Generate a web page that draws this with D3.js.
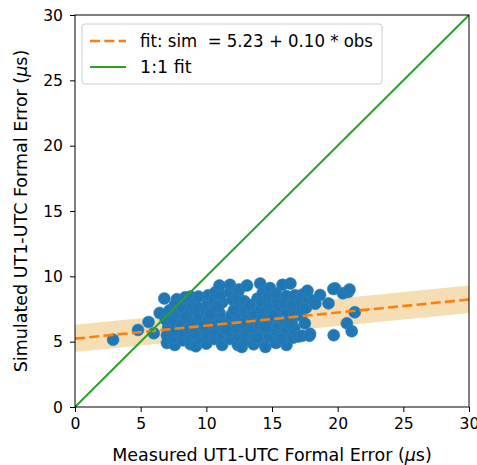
<!DOCTYPE html>
<html>
<head>
<meta charset="utf-8">
<script src="https://cdn.jsdelivr.net/npm/d3@7"></script>
<style>
  body { margin: 0; background: #fff; }
  text { font-family: "DejaVu Sans", sans-serif; fill: #000; }
</style>
</head>
<body>
<div id="chart"></div>
<script>
// Data ////////////////////////////////////////////////////////////////////
// Measured (obs) and simulated (sim) UT1-UTC formal errors
const obsValues = [
  2.9, 4.8, 5.6, 6.0, 6.45, 6.8, 7.0, 7.75,
  7.0, 7.1, 6.9, 7.2,
  7.6, 7.5, 7.7, 7.5, 7.8, 7.6,
  8.2, 8.3, 8.1, 8.3, 8.2, 8.4,
  8.8, 8.9, 8.7, 8.9, 8.8, 8.9, 8.8,
  9.2, 9.4, 9.5, 9.3, 9.5, 9.4, 9.4,
  10.0, 10.1, 9.9, 10.1, 10.0, 10.1, 10.15,
  10.6, 10.7, 10.5, 10.7, 10.6, 10.6, 10.7,
  11.2, 11.2, 11.3, 11.1, 11.0, 11.2, 11.1, 11.0,
  11.8, 11.9, 11.7, 11.9, 12.0, 11.8, 11.8,
  12.4, 12.5, 12.3, 12.5, 12.3, 12.4, 12.4, 12.5,
  12.7, 13.0, 13.1, 12.9, 13.1, 13.0, 12.9, 13.1,
  13.6, 13.7, 13.5, 13.7, 13.6, 13.5, 13.9,
  14.1, 14.2, 14.3, 14.1, 14.3, 14.2, 14.2, 14.3,
  14.5, 14.8, 14.9, 14.7, 14.9, 14.8, 14.7, 14.85,
  15.3, 15.4, 15.5, 15.3, 15.5, 15.4, 15.3, 15.8,
  16.1, 16.0, 16.1, 15.9, 16.1, 16.0, 16.1, 16.4,
  16.6, 16.7, 16.5, 16.7, 16.6, 16.75,
  17.0, 17.3, 17.2, 17.3, 17.2, 17.3,
  17.5, 17.9, 17.85, 17.6, 17.8, 18.1, 17.7,
  18.66, 19.3, 19.8, 20.8, 18.3, 20.4, 20.9, 19.67,
  21.3, 20.7, 21.07, 19.7,
  8.5, 9.7, 10.3, 11.5, 12.1, 12.7, 13.3, 14.5, 15.1, 15.7, 16.3, 9.1, 10.9, 13.9
];
const simValues = [
  5.15, 5.9, 6.5, 5.65, 7.2, 8.3, 4.9, 8.25,
  5.5, 6.1, 6.7, 7.4,
  4.75, 5.3, 5.9, 6.6, 7.2, 7.8,
  5.1, 5.7, 6.3, 7.0, 7.6, 8.4,
  4.8, 5.4, 6.0, 6.6, 7.3, 7.9, 8.45,
  4.65, 5.2, 5.8, 6.4, 7.0, 7.6, 8.45,
  4.85, 5.5, 6.1, 6.7, 7.3, 7.9, 8.55,
  5.2, 5.8, 6.4, 7.0, 7.6, 8.2, 8.8,
  4.75, 5.5, 6.1, 6.7, 7.2, 8.0, 8.6, 9.3,
  5.2, 5.8, 6.4, 7.0, 8.2, 8.8, 9.35,
  4.75, 5.4, 6.0, 6.6, 7.2, 7.8, 8.5, 9.0,
  4.6, 5.1, 5.7, 6.3, 6.9, 7.5, 8.1, 9.3,
  4.8, 5.4, 6.0, 6.6, 7.2, 7.8, 8.3,
  9.45, 5.1, 5.7, 6.3, 6.9, 7.5, 8.1, 8.75,
  4.6, 5.4, 6.0, 6.6, 7.2, 7.8, 8.4, 9.1,
  4.9, 5.7, 6.3, 6.9, 7.5, 8.1, 8.7, 9.35,
  4.75, 5.4, 6.1, 6.7, 7.3, 7.9, 8.5, 9.45,
  5.3, 6.0, 6.6, 7.2, 7.8, 8.55,
  5.4, 5.45, 7.0, 7.5, 8.1, 8.6,
  6.4, 5.6, 5.45, 7.6, 8.3, 8.1, 8.9,
  8.57, 7.93, 9.08, 8.8, 7.9, 8.7, 9.0, 9.03,
  7.25, 6.4, 5.8, 5.5,
  6.9, 6.2, 7.1, 5.9, 7.4, 6.4, 7.8, 6.1, 7.0, 5.2, 6.4, 5.6, 7.7, 5.3
];

// Fit line and its shaded band (at the two ends of the x range)
const fitX = [0, 30];
const fitIntercept = 5.23;
const fitSlope = 0.10;
const bandLower = [4.2, 7.2];
const bandUpper = [6.3, 9.3];

// Tick labels
const tickValues = [0, 5, 10, 15, 20, 25, 30];

// Chart ///////////////////////////////////////////////////////////////////
const margin = {top: 15, right: 8, bottom: 58, left: 75},
  width = 477 - margin.left - margin.right,
  height = 465 - margin.top - margin.bottom;

const x = d3.scaleLinear().domain([0, 30]).range([0, width]);
const y = d3.scaleLinear().domain([0, 30]).range([height, 0]);

const svg = d3.select('#chart').append('svg')
  .attr('width', 477)
  .attr('height', 465)
  .append('g')
  .attr('transform', 'translate(' + margin.left + ',' + margin.top + ')');

svg.append('defs').append('clipPath').attr('id', 'clip')
  .append('rect').attr('width', width).attr('height', height);

const plot = svg.append('g').attr('clip-path', 'url(#clip)');

// Shaded band around the fit
const bandData = fitX.map((d, i) => ({x: d, lo: bandLower[i], hi: bandUpper[i]}));
plot.append('path')
  .datum(bandData)
  .attr('fill', '#f5deb3')
  .attr('d', d3.area().x(d => x(d.x)).y0(d => y(d.lo)).y1(d => y(d.hi)));

// Scatter points
const points = obsValues.map((d, i) => ({obs: d, sim: simValues[i]}));
plot.selectAll('.dot')
  .data(points)
  .enter().append('circle')
  .attr('class', 'dot')
  .attr('cx', d => x(d.obs))
  .attr('cy', d => y(d.sim))
  .attr('r', 6)
  .attr('fill', '#1f77b4')
  .attr('stroke', '#3583bd')
  .attr('stroke-width', 0.6);

// Fit line
const line = d3.line().x(d => x(d[0])).y(d => y(d[1]));
plot.append('path')
  .datum(fitX.map(d => [d, fitIntercept + fitSlope * d]))
  .attr('fill', 'none')
  .attr('stroke', '#ff7f0e')
  .attr('stroke-width', 2.6)
  .attr('stroke-dasharray', '10,4.3')
  .attr('d', line);

// 1:1 line
plot.append('path')
  .datum(fitX.map(d => [d, d]))
  .attr('fill', 'none')
  .attr('stroke', '#2ca02c')
  .attr('stroke-width', 2)
  .attr('d', line);

// Axes
const xAxis = svg.append('g')
  .attr('transform', 'translate(0,' + height + ')')
  .call(d3.axisBottom(x).tickValues(tickValues).tickSize(5).tickPadding(6));
const yAxis = svg.append('g')
  .call(d3.axisLeft(y).tickValues(tickValues).tickSize(5).tickPadding(7));
[xAxis, yAxis].forEach(a => {
  a.selectAll('text').style('font-size', '15.6px').style('font-family', '"DejaVu Sans", sans-serif');
  a.select('.domain').remove();
  a.selectAll('line').attr('stroke', '#000').attr('stroke-width', 1);
});

// Frame
svg.append('rect')
  .attr('width', width).attr('height', height)
  .attr('fill', 'none').attr('stroke', '#000').attr('stroke-width', 1);

// Axis labels
const xLabel = svg.append('text')
  .attr('x', width / 2)
  .attr('y', height + 54)
  .attr('text-anchor', 'middle')
  .style('font-size', '17.5px');
xLabel.append('tspan').text('Measured UT1-UTC Formal Error (');
xLabel.append('tspan').style('font-style', 'italic').text('μ');
xLabel.append('tspan').text('s)');

const yLabel = svg.append('text')
  .attr('transform', 'translate(' + (-48) + ',' + (height / 2) + ') rotate(-90)')
  .attr('text-anchor', 'middle')
  .style('font-size', '17.5px');
yLabel.append('tspan').text('Simulated UT1-UTC Formal Error (');
yLabel.append('tspan').style('font-style', 'italic').text('μ');
yLabel.append('tspan').text('s)');

// Legend
const legend = svg.append('g').attr('transform', 'translate(7,9)');
legend.append('rect')
  .attr('width', 300).attr('height', 60)
  .attr('rx', 3)
  .attr('fill', '#fff').attr('fill-opacity', 0.8)
  .attr('stroke', '#ccc');
legend.append('line')
  .attr('x1', 8).attr('x2', 44).attr('y1', 17).attr('y2', 17)
  .attr('stroke', '#ff7f0e').attr('stroke-width', 2.6).attr('stroke-dasharray', '10,4.3');
legend.append('line')
  .attr('x1', 8).attr('x2', 44).attr('y1', 43).attr('y2', 43)
  .attr('stroke', '#2ca02c').attr('stroke-width', 2);
legend.append('text')
  .attr('x', 58).attr('y', 23)
  .style('font-size', '17.5px')
  .attr('xml:space', 'preserve')
  .attr('textLength', 233)
  .attr('lengthAdjust', 'spacingAndGlyphs')
  .text('fit: sim  = 5.23 + 0.10 * obs');
legend.append('text')
  .attr('x', 58).attr('y', 49)
  .style('font-size', '17.5px')
  .text('1:1 fit');
</script>
</body>
</html>
